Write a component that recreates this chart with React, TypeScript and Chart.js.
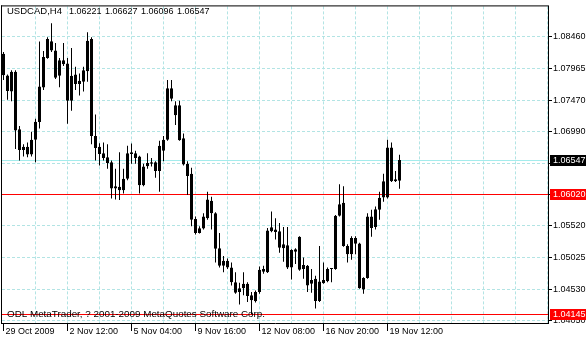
import React, { useEffect, useRef } from "react";
import { Chart, registerables } from "chart.js";
Chart.register(...registerables);

const symbolLabel = "USDCAD,H4";
const copyrightText = "ODL MetaTrader, ? 2001-2009 MetaQuotes Software Corp.";

const opens = [
  1.08199, 1.07861, 1.07611, 1.07918, 1.07022, 1.06699, 1.06752, 1.06629, 1.06859, 1.07135,
  1.07673, 1.08133, 1.08394, 1.08250, 1.07857, 1.08096, 1.08046, 1.07467, 1.07877, 1.07728,
  1.07765, 1.07927, 1.08429, 1.06920, 1.06752, 1.06649, 1.06587, 1.06511, 1.06101, 1.06127,
  1.06076, 1.06254, 1.06664, 1.06649, 1.06598, 1.06153, 1.06449, 1.06485, 1.06511, 1.06372,
  1.06690, 1.06859, 1.07662, 1.07243, 1.07396, 1.06884, 1.06485, 1.06331, 1.05625, 1.05410,
  1.05478, 1.05640, 1.05912, 1.05717, 1.05171, 1.04899, 1.04976, 1.04873, 1.04643, 1.04489,
  1.04550, 1.04618, 1.04438, 1.04346, 1.04489, 1.04807, 1.04796, 1.05436, 1.05462, 1.05436,
  1.05171, 1.05217, 1.04873, 1.05155, 1.05349, 1.04848, 1.04899, 1.04618, 1.04695, 1.04351,
  1.04627, 1.04658, 1.04848, 1.04848, 1.05677, 1.05881, 1.05206, 1.05078, 1.05333, 1.05247,
  1.04530, 1.04710, 1.05666, 1.05502, 1.05769, 1.05963, 1.05963, 1.06741, 1.06214, 1.06221,
];
const highs = [
  1.08225, 1.07877, 1.07943, 1.07943, 1.07074, 1.06791, 1.06818, 1.06986, 1.07186, 1.08388,
  1.08241, 1.08455, 1.08675, 1.08368, 1.08133, 1.08368, 1.08133, 1.08287, 1.07995, 1.07892,
  1.07995, 1.08532, 1.08455, 1.07252, 1.06807, 1.06818, 1.06791, 1.06537, 1.06408, 1.06664,
  1.06408, 1.06767, 1.06802, 1.06690, 1.06613, 1.06485, 1.06649, 1.06577, 1.06526, 1.06844,
  1.06920, 1.07789, 1.07789, 1.07458, 1.07467, 1.06956, 1.06526, 1.06423, 1.05666, 1.05513,
  1.05717, 1.06050, 1.05973, 1.05730, 1.05410, 1.05052, 1.05011, 1.04950, 1.04796, 1.04633,
  1.04796, 1.04643, 1.04489, 1.04515, 1.04888, 1.04899, 1.05487, 1.05743, 1.05640, 1.05563,
  1.05502, 1.05502, 1.05155, 1.05171, 1.05359, 1.05026, 1.04910, 1.04848, 1.04745, 1.05206,
  1.04950, 1.04873, 1.04853, 1.05690, 1.06168, 1.06138, 1.05232, 1.05359, 1.05360, 1.05257,
  1.04719, 1.05717, 1.05769, 1.05820, 1.06050, 1.06331, 1.06859, 1.06818, 1.06372, 1.06627,
];
const lows = [
  1.07789, 1.07482, 1.07458, 1.06715, 1.06537, 1.06598, 1.06587, 1.06598, 1.06511, 1.07037,
  1.07636, 1.08122, 1.08225, 1.07805, 1.07677, 1.08010, 1.07109, 1.07313, 1.07636, 1.07550,
  1.07611, 1.07765, 1.06791, 1.06537, 1.06460, 1.06537, 1.06408, 1.05947, 1.05932, 1.05923,
  1.06024, 1.06230, 1.06485, 1.06485, 1.06024, 1.06138, 1.06408, 1.06445, 1.06270, 1.06050,
  1.06526, 1.06844, 1.07458, 1.07089, 1.06844, 1.06460, 1.05999, 1.05513, 1.05385, 1.05401,
  1.05462, 1.05616, 1.05462, 1.04950, 1.04873, 1.04796, 1.04848, 1.04592, 1.04464, 1.04296,
  1.04438, 1.04336, 1.04145, 1.04326, 1.04464, 1.04776, 1.04787, 1.05421, 1.05309, 1.05103,
  1.04960, 1.04848, 1.04684, 1.04925, 1.04822, 1.04695, 1.04489, 1.04480, 1.04234, 1.04336,
  1.04618, 1.04643, 1.04643, 1.04837, 1.05666, 1.05195, 1.04950, 1.04991, 1.05078, 1.04541,
  1.04464, 1.04695, 1.05349, 1.05462, 1.05616, 1.05897, 1.05947, 1.06204, 1.06204, 1.06096,
];
const closes = [
  1.07866, 1.07620, 1.07918, 1.07006, 1.06699, 1.06752, 1.06629, 1.06859, 1.07140, 1.07688,
  1.08148, 1.08429, 1.08250, 1.07826, 1.08096, 1.08035, 1.07467, 1.07857, 1.07728, 1.07780,
  1.07943, 1.08403, 1.06920, 1.06730, 1.06638, 1.06577, 1.06500, 1.06101, 1.06138, 1.06076,
  1.06254, 1.06649, 1.06638, 1.06577, 1.06153, 1.06445, 1.06500, 1.06511, 1.06372, 1.06767,
  1.06859, 1.07662, 1.07498, 1.07396, 1.06853, 1.06475, 1.06296, 1.05616, 1.05410, 1.05482,
  1.05666, 1.05932, 1.05717, 1.05164, 1.04899, 1.04976, 1.04873, 1.04643, 1.04480, 1.04550,
  1.04618, 1.04428, 1.04362, 1.04489, 1.04837, 1.04848, 1.05447, 1.05497, 1.05425, 1.05180,
  1.05232, 1.04873, 1.05144, 1.05118, 1.04837, 1.04910, 1.04592, 1.04679, 1.04351, 1.04653,
  1.04679, 1.04848, 1.04853, 1.05677, 1.05855, 1.05206, 1.05078, 1.05333, 1.05241, 1.04550,
  1.04710, 1.05666, 1.05487, 1.05778, 1.05958, 1.06214, 1.06741, 1.06214, 1.06245, 1.06547,
];

const xTickBars = [0, 16, 32, 48, 64, 80, 96];
const xTickLabels = [
  "29 Oct 2009",
  "2 Nov 12:00",
  "5 Nov 04:00",
  "9 Nov 16:00",
  "12 Nov 08:00",
  "16 Nov 20:00",
  "19 Nov 12:00",
];
const xGridBars = [0, 8, 16, 24, 32, 40, 48, 56, 64, 72, 80, 88, 96, 104, 112, 120, 128, 136];
const yTickValues = [1.0846, 1.07965, 1.0747, 1.0699, 1.06495, 1.0601, 1.0552, 1.05025, 1.0453, 1.0405];
const bidPrice = 1.06547;
const levelPrices = [1.0602, 1.04145];

const FONT_FAMILY = '"Liberation Sans", Arial, sans-serif';
const GRID = "#b2e4e4";
const BID = "#a4ecec";
const RED = "#ff0000";

function fitFont(ctx: CanvasRenderingContext2D, text: string, width: number) {
  ctx.font = `9px ${FONT_FAMILY}`;
  const w = ctx.measureText(text).width;
  const size = (9 * width) / w;
  ctx.font = `${size.toFixed(2)}px ${FONT_FAMILY}`;
}

const overlayPlugin = {
  id: "mt4overlay",
  beforeDatasetsDraw(chart: any) {
    const { ctx, chartArea: a, scales } = chart;
    const y = scales.y;
    const x = scales.x;
    ctx.save();
    ctx.lineWidth = 1;
    // vertical dashed grid
    ctx.strokeStyle = GRID;
    ctx.setLineDash([3, 2]);
    xGridBars.forEach((b) => {
      if (b === 0) return;
      const px = Math.floor(x.getPixelForValue(b)) + 0.5;
      ctx.beginPath();
      ctx.moveTo(px, a.top);
      ctx.lineTo(px, a.bottom);
      ctx.stroke();
    });
    ctx.setLineDash([]);
    const drawH = (p: number, color: string) => {
      const py = Math.round(y.getPixelForValue(p)) + 0.5;
      ctx.strokeStyle = color;
      ctx.beginPath();
      ctx.moveTo(a.left, py);
      ctx.lineTo(a.right, py);
      ctx.stroke();
    };
    drawH(bidPrice, BID);
    levelPrices.forEach((p) => drawH(p, RED));
    // x tick marks at labelled bars
    ctx.strokeStyle = "#000";
    xTickBars.forEach((b) => {
      const px = Math.floor(x.getPixelForValue(b)) + 0.5;
      ctx.beginPath();
      ctx.moveTo(px, a.bottom);
      ctx.lineTo(px, a.bottom + 8);
      ctx.stroke();
    });
    ctx.restore();
  },
  afterDraw(chart: any) {
    const { ctx, chartArea: a, scales } = chart;
    const y = scales.y;
    ctx.save();
    // frame (left and top)
    ctx.fillStyle = "#000";
    ctx.fillRect(a.left - 1, a.top - 1, a.right - a.left + 2, 1);
    ctx.fillRect(a.left - 1, a.top - 1, 1, a.bottom - a.top + 2);

    // header
    ctx.textBaseline = "alphabetic";
    ctx.textAlign = "left";
    ctx.fillStyle = "#000";
    fitFont(ctx, symbolLabel, 55);
    ctx.fillText(symbolLabel, 7, 14);
    ctx.font = `9px ${FONT_FAMILY}`;
    const last = opens.length - 1;
    const vals = [opens[last], highs[last], lows[last], closes[last]];
    vals.forEach((v, k) => ctx.fillText(v.toFixed(5), 69 + 36 * k, 14));

    // copyright
    fitFont(ctx, copyrightText, 258);
    ctx.fillText(copyrightText, 7, 317);

    // price boxes
    ctx.font = `9px ${FONT_FAMILY}`;
    const box = (p: number, bg: string) => {
      const row = Math.round(y.getPixelForValue(p));
      ctx.fillStyle = bg;
      ctx.fillRect(a.right + 2, row - 5, 40, 11);
      ctx.fillStyle = "#fff";
      ctx.textBaseline = "middle";
      ctx.fillText(p.toFixed(5), a.right + 5, row + 0.5);
    };
    box(bidPrice, "#000");
    levelPrices.forEach((p) => box(p, RED));
    ctx.restore();
  },
};

export default function App() {
  const canvasRef = useRef<HTMLCanvasElement | null>(null);

  useEffect(() => {
    const canvas = canvasRef.current;
    if (!canvas) return;
    Chart.defaults.font.family = FONT_FAMILY;
    Chart.defaults.font.size = 9;
    Chart.defaults.color = "#000";

    const wickData = highs.map((h, i) => ({ x: i, y: [lows[i], h] }));
    const bodyData = opens.map((o, i) => ({ x: i, y: [o, closes[i]] }));
    const bodyColors = opens.map((o, i) => (closes[i] >= o ? "#ffffff" : "#000000"));

    const chart = new Chart(canvas, {
      type: "bar",
      data: {
        datasets: [
          {
            data: wickData as any,
            backgroundColor: "#000",
            borderWidth: 0,
            barThickness: 1,
            grouped: false,
            inflateAmount: 0,
          } as any,
          {
            data: bodyData as any,
            backgroundColor: bodyColors,
            borderColor: "#000",
            borderWidth: 1,
            borderSkipped: false,
            barThickness: 3,
            grouped: false,
            minBarLength: 1,
            inflateAmount: 0,
          } as any,
        ],
      },
      options: {
        responsive: false,
        animation: false,
        events: [],
        layout: { padding: { left: 2, top: 2, right: 0, bottom: 0 } },
        plugins: { legend: { display: false }, tooltip: { enabled: false } },
        scales: {
          x: {
            type: "linear",
            min: -0.375,
            max: 136.125,
            offset: false,
            afterBuildTicks: (scale: any) => {
              scale.ticks = xTickBars.map((v) => ({ value: v }));
            },
            afterFit: (scale: any) => {
              scale.height = 17;
            },
            grid: {
              offset: false,
              drawOnChartArea: false,
              drawTicks: false,
              tickLength: 8,
            },
            border: { display: true, color: "#000" },
            ticks: {
              autoSkip: false,
              maxRotation: 0,
              minRotation: 0,
              align: "start",
              labelOffset: 2,
              padding: 3,
              font: { size: 9, family: FONT_FAMILY },
              color: "#000",
              callback: (value: any) => {
                const k = xTickBars.indexOf(Number(value));
                return k >= 0 ? xTickLabels[k] : "";
              },
            },
          } as any,
          y: {
            type: "linear",
            position: "right",
            min: 1.04008,
            max: 1.08936,
            afterBuildTicks: (scale: any) => {
              scale.ticks = yTickValues.map((v) => ({ value: v }));
            },
            afterFit: (scale: any) => {
              scale.width = 38;
            },
            grid: {
              color: GRID,
              tickColor: "#000",
              tickLength: 4,
              lineWidth: 1,
            },
            border: { display: true, color: "#000", dash: [3, 2] },
            ticks: {
              padding: 1,
              font: { size: 9, family: FONT_FAMILY },
              color: "#000",
              callback: (value: any) => Number(value).toFixed(5),
            },
          } as any,
        },
      },
      plugins: [overlayPlugin],
    });

    return () => {
      chart.destroy();
    };
  }, []);

  return (
    <div style={{ position: "absolute", left: 0, top: 0, width: 586, height: 340, background: "#fff" }}>
      <canvas ref={canvasRef} width={586} height={340} style={{ display: "block" }} />
    </div>
  );
}
